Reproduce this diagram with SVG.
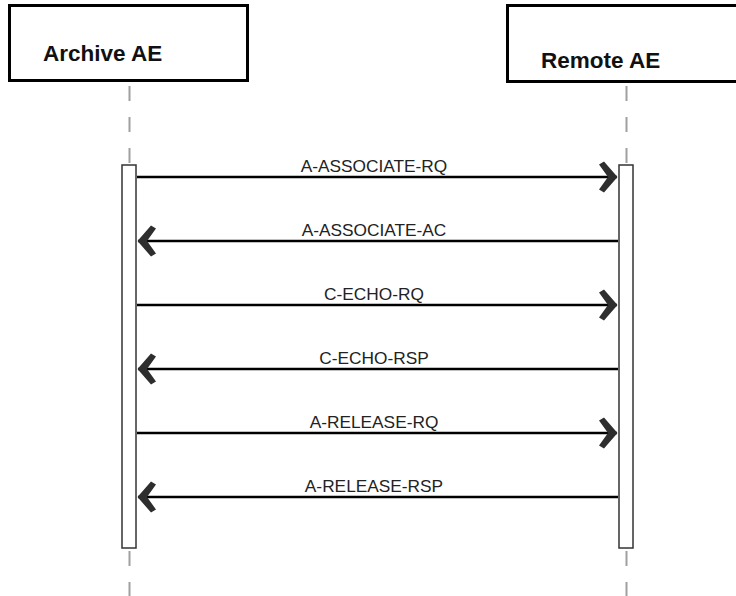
<svg xmlns="http://www.w3.org/2000/svg" width="736" height="596" viewBox="0 0 736 596">
<style>
.hdr{fill:#fff;stroke:#000;stroke-width:3}
.hdrt{font-family:"Liberation Sans",Arial,sans-serif;font-weight:bold;font-size:22.5px;fill:#111}
.life{stroke:#a0a0a0;stroke-width:2;stroke-dasharray:15 16}
.act{fill:#fff;stroke:#333;stroke-width:1.5}
.msg{stroke:#000;stroke-width:2.5;fill:none}
.lbl{font-family:"Liberation Sans",Arial,sans-serif;font-size:17.3px;fill:#222;text-anchor:middle}
</style>
<defs>
<marker id="ah" markerUnits="userSpaceOnUse" viewBox="-20 -18 22 36" refX="0" refY="0" markerWidth="22" markerHeight="36" orient="auto">
<path d="M0.5,0 L-13,-15.5 L-18,-12.5 L-9,0 L-18,12.5 L-13,15.5 Z" fill="#2e2e2e"/>
</marker>
</defs>
<g id="archive">
<rect class="hdr" x="9.5" y="5.5" width="238" height="75"/>
<text class="hdrt" x="43" y="61">Archive AE</text>
<line class="life" x1="129.5" y1="86" x2="129.5" y2="596"/>
<rect class="act" x="122" y="165" width="14" height="383"/>
</g>
<g id="remote">
<rect class="hdr" x="507.5" y="5.5" width="240" height="76"/>
<text class="hdrt" x="541" y="68">Remote AE</text>
<line class="life" x1="626.5" y1="86" x2="626.5" y2="596"/>
<rect class="act" x="619" y="165" width="14" height="383"/>
</g>
<g id="connectors">
<line class="msg" x1="137" y1="177" x2="617" y2="177" marker-end="url(#ah)"/>
<text class="lbl" x="374" y="172">A-ASSOCIATE-RQ</text>
<line class="msg" x1="618" y1="241" x2="138" y2="241" marker-end="url(#ah)"/>
<text class="lbl" x="374" y="236">A-ASSOCIATE-AC</text>
<line class="msg" x1="137" y1="305" x2="617" y2="305" marker-end="url(#ah)"/>
<text class="lbl" x="374" y="300">C-ECHO-RQ</text>
<line class="msg" x1="618" y1="369" x2="138" y2="369" marker-end="url(#ah)"/>
<text class="lbl" x="374" y="364">C-ECHO-RSP</text>
<line class="msg" x1="137" y1="433" x2="617" y2="433" marker-end="url(#ah)"/>
<text class="lbl" x="374" y="428">A-RELEASE-RQ</text>
<line class="msg" x1="618" y1="497" x2="138" y2="497" marker-end="url(#ah)"/>
<text class="lbl" x="374" y="492">A-RELEASE-RSP</text>
</g>
</svg>
